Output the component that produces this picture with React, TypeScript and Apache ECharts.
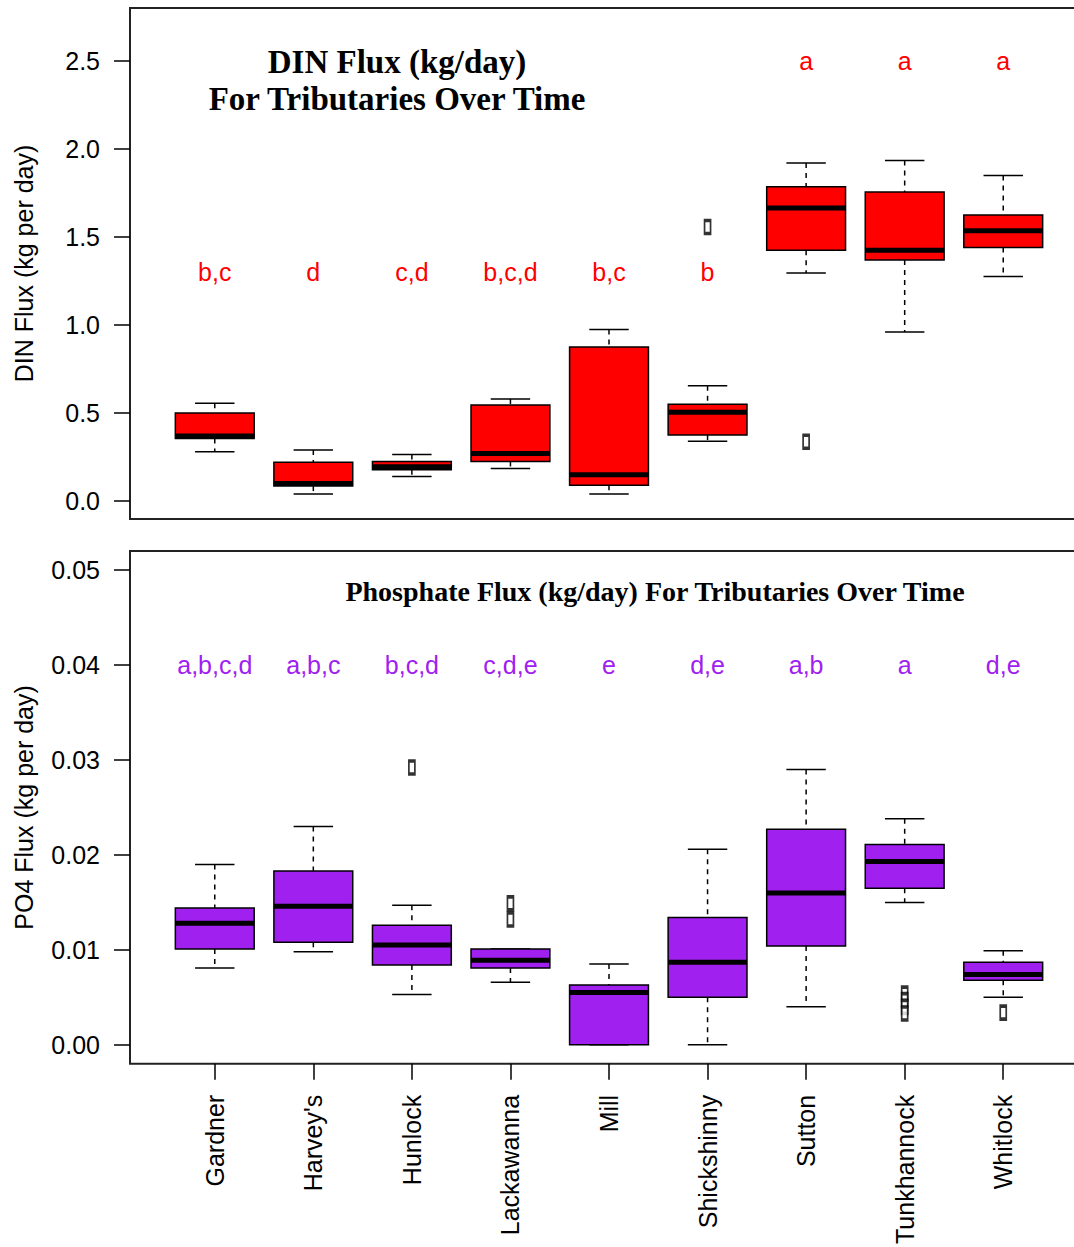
import React, { useEffect, useRef } from "react";
import * as echarts from "echarts";

const CATEGORIES = ["Gardner", "Harvey's", "Hunlock", "Lackawanna", "Mill", "Shickshinny", "Sutton", "Tunkhannock", "Whitlock"];

// DIN flux (kg/day) five-number summaries
const DIN_LOW = [0.28, 0.04, 0.14, 0.185, 0.04, 0.34, 1.295, 0.96, 1.275];
const DIN_Q1 = [0.355, 0.085, 0.178, 0.225, 0.09, 0.375, 1.425, 1.37, 1.44];
const DIN_MEDIAN = [0.37, 0.1, 0.195, 0.27, 0.15, 0.505, 1.665, 1.425, 1.535];
const DIN_Q3 = [0.5, 0.22, 0.225, 0.545, 0.875, 0.55, 1.785, 1.755, 1.625];
const DIN_HIGH = [0.555, 0.29, 0.265, 0.58, 0.975, 0.655, 1.92, 1.935, 1.85];
const DIN_OUTLIERS = [[6, 1.557], [7, 0.337]];
const DIN_LETTERS = ["b,c", "d", "c,d", "b,c,d", "b,c", "b", "a", "a", "a"];
const DIN_LETTER_Y = [1.3, 1.3, 1.3, 1.3, 1.3, 1.3, 2.5, 2.5, 2.5];
const DIN_TICKS = [0, 0.5, 1.0, 1.5, 2.0, 2.5];

// PO4 flux (kg/day) five-number summaries
const PO4_LOW = [0.0081, 0.0098, 0.0053, 0.0066, 0.0, 0.0, 0.004, 0.015, 0.005];
const PO4_Q1 = [0.0101, 0.0108, 0.0084, 0.0081, 0.0, 0.005, 0.0104, 0.0165, 0.0068];
const PO4_MEDIAN = [0.0128, 0.0146, 0.0105, 0.0089, 0.0055, 0.0087, 0.016, 0.0193, 0.0074];
const PO4_Q3 = [0.0144, 0.0183, 0.0126, 0.0101, 0.0063, 0.0134, 0.0227, 0.0211, 0.0087];
const PO4_HIGH = [0.019, 0.023, 0.0147, 0.0101, 0.0085, 0.0206, 0.029, 0.0238, 0.0099];
const PO4_OUTLIERS = [[3, 0.0292], [4, 0.0149], [4, 0.0132], [8, 0.0054], [8, 0.0047], [8, 0.004], [8, 0.0033], [9, 0.0034]];
const PO4_LETTERS = ["a,b,c,d", "a,b,c", "b,c,d", "c,d,e", "e", "d,e", "a,b", "a", "d,e"];
const PO4_LETTER_Y = [0.04, 0.04, 0.04, 0.04, 0.04, 0.04, 0.04, 0.04, 0.04];
const PO4_TICKS = [0, 0.01, 0.02, 0.03, 0.04, 0.05];

const RED = "#ff0000";
const PURPLE = "#a020f0";
const SANS = "'Liberation Sans', Arial, sans-serif";
const SERIF = "'Liberation Serif', 'Times New Roman', serif";
const POSITIONS = CATEGORIES.map((_, i) => i + 1);

function boxData(lo: number[], q1: number[], med: number[], q3: number[], hi: number[]) {
  return POSITIONS.map((x, i) => [x, lo[i], q1[i], med[i], q3[i], hi[i]]);
}

function makeRenderBox(fill: string) {
  return (params: any, api: any) => {
    const x = api.value(0);
    const pLo = api.coord([x, api.value(1)]);
    const pQ1 = api.coord([x, api.value(2)]);
    const pMed = api.coord([x, api.value(3)]);
    const pQ3 = api.coord([x, api.value(4)]);
    const pHi = api.coord([x, api.value(5)]);
    const w = api.size([0.8, 0])[0];
    const cx = pLo[0];
    const half = w / 2;
    const cap = w / 4;
    const dashed = { stroke: "#000", lineWidth: 1.5, lineDash: [5, 5] };
    const solid = { stroke: "#000", lineWidth: 1.5 };
    return {
      type: "group",
      children: [
        { type: "line", shape: { x1: cx, y1: pHi[1], x2: cx, y2: pQ3[1] }, style: dashed },
        { type: "line", shape: { x1: cx, y1: pQ1[1], x2: cx, y2: pLo[1] }, style: dashed },
        { type: "line", shape: { x1: cx - cap, y1: pHi[1], x2: cx + cap, y2: pHi[1] }, style: solid },
        { type: "line", shape: { x1: cx - cap, y1: pLo[1], x2: cx + cap, y2: pLo[1] }, style: solid },
        {
          type: "rect",
          shape: { x: cx - half, y: pQ3[1], width: w, height: pQ1[1] - pQ3[1] },
          style: { fill, stroke: "#000", lineWidth: 1.5 },
        },
        { type: "line", shape: { x1: cx - half, y1: pMed[1], x2: cx + half, y2: pMed[1] }, style: { stroke: "#000", lineWidth: 5 } },
      ],
    };
  };
}

function makeRenderLetter(color: string) {
  return (params: any, api: any) => {
    const p = api.coord([api.value(0), api.value(1)]);
    return {
      type: "text",
      x: p[0],
      y: p[1],
      style: {
        text: api.value(2),
        fill: color,
        font: `25px ${SANS}`,
        align: "center",
        verticalAlign: "middle",
      },
    };
  };
}

export default function App() {
  const ref = useRef<HTMLDivElement>(null);
  useEffect(() => {
    if (!ref.current) return;
    const chart = echarts.init(ref.current, undefined, { renderer: "svg" });
    const gridBorder = { show: true, borderColor: "#222", borderWidth: 2, backgroundColor: "transparent" };
    const yCommon = (ticks: number[], digits: number) => ({
      type: "value",
      splitLine: { show: false },
      axisLine: { show: false, onZero: false },
      axisTick: { show: true, customValues: ticks, length: 16, inside: false, lineStyle: { color: "#000", width: 1.5 } },
      axisLabel: {
        customValues: ticks,
        margin: 30,
        color: "#000",
        fontSize: 25,
        fontFamily: SANS,
        formatter: (v: number) => v.toFixed(digits),
      },
      nameLocation: "middle",
      nameGap: 94,
      nameTextStyle: { color: "#000", fontSize: 25, fontFamily: SANS },
    });
    const outlierStyle = {
      symbol: "rect",
      symbolSize: [6, 13],
      itemStyle: { color: "#fff", borderColor: "#000", borderWidth: 2.5 },
    };
    chart.setOption({
      animation: false,
      backgroundColor: "#fff",
      grid: [
        { left: 130, top: 8, width: 958, height: 511, ...gridBorder },
        { left: 130, top: 551, width: 958, height: 513, ...gridBorder },
      ],
      xAxis: [
        {
          type: "value", gridIndex: 0, min: 0.14, max: 9.86, position: "bottom",
          axisLine: { show: false, onZero: false }, axisTick: { show: false }, axisLabel: { show: false }, splitLine: { show: false },
        },
        {
          type: "value", gridIndex: 1, min: 0.14, max: 9.86, position: "bottom",
          axisLine: { show: false, onZero: false }, splitLine: { show: false },
          axisTick: { show: true, customValues: POSITIONS, length: 16, inside: false, lineStyle: { color: "#000", width: 1.5 } },
          axisLabel: {
            customValues: POSITIONS,
            rotate: 90,
            margin: 31,
            color: "#000",
            fontSize: 25,
            fontFamily: SANS,
            formatter: (v: number) => CATEGORIES[Math.round(v) - 1] ?? "",
          },
        },
      ],
      yAxis: [
        { ...yCommon(DIN_TICKS, 1), gridIndex: 0, min: -0.102, max: 2.801, name: "DIN Flux (kg per day)" },
        { ...yCommon(PO4_TICKS, 2), gridIndex: 1, min: -0.002, max: 0.052, name: "PO4 Flux (kg per day)" },
      ],
      graphic: [
        {
          type: "text", x: 397, y: 80,
          style: {
            text: "DIN Flux (kg/day)\nFor Tributaries Over Time",
            font: `bold 33px ${SERIF}`, fill: "#000", align: "center", verticalAlign: "middle", lineHeight: 37,
          },
        },
        {
          type: "text", x: 655, y: 591,
          style: {
            text: "Phosphate Flux (kg/day) For Tributaries Over Time",
            font: `bold 28px ${SERIF}`, fill: "#000", align: "center", verticalAlign: "middle",
          },
        },
      ],
      series: [
        {
          type: "custom", xAxisIndex: 0, yAxisIndex: 0,
          data: boxData(DIN_LOW, DIN_Q1, DIN_MEDIAN, DIN_Q3, DIN_HIGH),
          renderItem: makeRenderBox(RED),
          encode: { x: 0, y: [1, 2, 3, 4, 5] },
        },
        { type: "scatter", xAxisIndex: 0, yAxisIndex: 0, data: DIN_OUTLIERS, ...outlierStyle },
        {
          type: "custom", xAxisIndex: 0, yAxisIndex: 0,
          data: POSITIONS.map((x, i) => [x, DIN_LETTER_Y[i], DIN_LETTERS[i]]),
          renderItem: makeRenderLetter(RED),
          encode: { x: 0, y: 1 },
        },
        {
          type: "custom", xAxisIndex: 1, yAxisIndex: 1,
          data: boxData(PO4_LOW, PO4_Q1, PO4_MEDIAN, PO4_Q3, PO4_HIGH),
          renderItem: makeRenderBox(PURPLE),
          encode: { x: 0, y: [1, 2, 3, 4, 5] },
        },
        { type: "scatter", xAxisIndex: 1, yAxisIndex: 1, data: PO4_OUTLIERS, ...outlierStyle },
        {
          type: "custom", xAxisIndex: 1, yAxisIndex: 1,
          data: POSITIONS.map((x, i) => [x, PO4_LETTER_Y[i], PO4_LETTERS[i]]),
          renderItem: makeRenderLetter(PURPLE),
          encode: { x: 0, y: 1 },
        },
      ],
    });
    return () => chart.dispose();
  }, []);
  return (
    <div style={{ position: "fixed", left: 0, top: 0, width: 1074, height: 1247, overflow: "hidden", background: "#fff" }}>
      <div ref={ref} style={{ width: 1100, height: 1247 }} />
    </div>
  );
}
